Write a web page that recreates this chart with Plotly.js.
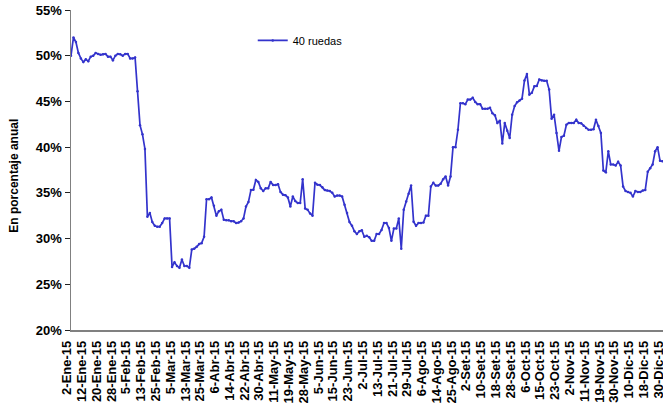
<!DOCTYPE html>
<html>
<head>
<meta charset="utf-8">
<script src="https://cdn.plot.ly/plotly-3.0.1.min.js"></script>
<style>html,body{margin:0;padding:0;background:#fff;}#chart{width:663px;height:410px;}</style>
</head>
<body>
<div id="chart"></div>
<script>
// Series: "40 ruedas" (percent annual), one value per trading day of 2015
var seriesName = "40 ruedas";
var values = [
50.0,52.0,51.5,50.3,49.7,49.3,49.6,49.4,49.9,50.0,
50.3,50.2,50.1,50.15,50.2,49.9,49.9,49.5,50.0,50.2,
50.15,50.0,50.2,50.2,49.7,49.7,49.8,46.1,42.4,41.4,
39.8,32.4,32.8,31.8,31.4,31.3,31.3,31.7,32.2,32.2,
32.2,26.9,27.4,27.0,26.8,27.7,27.0,27.0,26.8,28.8,
28.9,29.1,29.4,29.5,30.2,34.3,34.3,34.5,33.6,32.5,
33.0,33.15,32.05,32.0,32.0,31.9,31.9,31.7,31.75,31.9,
32.2,33.5,34.0,35.3,35.35,36.4,36.2,35.5,35.2,35.5,
35.5,36.2,35.85,35.85,35.95,35.1,34.8,34.75,34.5,33.5,
34.6,34.1,33.9,33.9,36.5,33.3,33.15,32.75,32.5,36.1,
35.9,35.85,35.6,35.3,35.25,35.2,35.0,34.6,34.7,34.7,
34.6,33.7,32.8,31.8,31.4,30.8,30.5,30.8,30.9,30.2,
30.3,30.15,29.75,29.75,30.5,30.5,30.95,31.7,31.7,31.15,
29.75,31.1,31.1,32.2,28.9,33.15,34.05,34.9,35.8,31.85,
31.4,31.7,31.7,31.75,32.5,32.5,35.7,36.1,35.8,35.8,
36.0,36.5,36.8,35.8,36.8,40.0,40.0,41.9,44.8,44.8,
44.7,45.2,45.2,45.4,44.95,44.7,44.7,44.2,44.2,44.2,
44.3,43.7,43.5,42.65,42.9,40.4,42.65,41.8,41.0,43.55,
44.5,44.9,45.1,45.3,47.3,48.0,45.75,45.95,46.65,46.7,
47.4,47.3,47.25,47.25,46.3,43.1,43.55,41.55,39.6,41.1,
41.25,42.45,42.65,42.65,42.65,43.0,42.65,42.6,42.35,42.1,
41.9,41.9,41.95,43.0,42.3,41.55,37.45,37.25,39.55,38.1,
38.1,38.0,38.4,38.0,35.7,35.2,35.1,35.0,34.6,35.2,
35.1,35.1,35.25,35.3,37.3,37.7,38.1,39.55,40.0,38.5,
38.45
];
// Category tick labels (every 6th trading day)
var tickLabels = ["2-Ene-15","12-Ene-15","20-Ene-15","28-Ene-15","5-Feb-15","13-Feb-15","25-Feb-15",
"5-Mar-15","13-Mar-15","25-Mar-15","6-Abr-15","14-Abr-15","22-Abr-15","30-Abr-15","11-May-15",
"19-May-15","28-May-15","5-Jun-15","15-Jun-15","23-Jun-15","2-Jul-15","13-Jul-15","21-Jul-15",
"29-Jul-15","6-Ago-15","14-Ago-15","25-Ago-15","2-Set-15","10-Set-15","18-Set-15","28-Set-15",
"6-Oct-15","15-Oct-15","23-Oct-15","2-Nov-15","11-Nov-15","19-Nov-15","30-Nov-15","10-Dic-15",
"18-Dic-15","30-Dic-15"];
var labelStep = 6;
var yTickVals = [20,25,30,35,40,45,50,55];
var yTitle = "En porcentaje anual";

var xs = values.map(function(v,i){return i;});
var tickPos = tickLabels.map(function(t,i){return i*labelStep;});
var yTickText = yTickVals.map(function(v){return v+"%";});

var trace = {
  x: xs, y: values, type: 'scatter', mode: 'lines+markers', name: seriesName,
  line: {color: '#3333cc', width: 1.7},
  marker: {color: '#3333cc', size: 2.5}
};
var axisColor = '#808080';
var FONT = 'Liberation Sans, Arial, sans-serif';
var layout = {
  width: 663, height: 410,
  margin: {l: 71, r: 0, t: 10, b: 80, pad: 0},
  paper_bgcolor: '#ffffff', plot_bgcolor: '#ffffff',
  font: {family: FONT, color: '#000'},
  showlegend: true,
  legend: {x: 0.307, y: 0.905, xanchor: 'left', yanchor: 'middle', bgcolor: 'rgba(0,0,0,0)',
           font: {size: 11, family: FONT}, itemwidth: 30},
  xaxis: {
    range: [0, values.length - 0.8], tickmode: 'array', tickvals: tickPos, ticktext: tickLabels,
    tickangle: -90, tickfont: {size: 13, family: FONT, weight: 'bold'},
    ticklabelshift: -4, ticklabelstandoff: 4, ticklabeloverflow: 'allow',
    showline: true, linecolor: axisColor, linewidth: 1.5, ticks: '', showgrid: false, zeroline: false,
    automargin: false
  },
  yaxis: {
    range: [20, 55], tickmode: 'array', tickvals: yTickVals, ticktext: yTickText,
    tickfont: {size: 13, family: FONT, weight: 'bold'},
    showline: true, linecolor: axisColor, linewidth: 1.5, ticks: 'outside', ticklen: 5,
    tickcolor: '#222', tickwidth: 1, showgrid: false, zeroline: false, automargin: false
  },
  yaxis2: {
    overlaying: 'y', side: 'left', range: [20, 55], tickmode: 'array', tickvals: yTickVals,
    showticklabels: false, ticks: 'inside', ticklen: 5, tickcolor: '#222', tickwidth: 1,
    showline: false, showgrid: false, zeroline: false
  },
  annotations: [{
    text: yTitle, xref: 'paper', yref: 'paper', x: -0.0963, y: 0.482,
    xanchor: 'center', yanchor: 'middle', textangle: -90, showarrow: false,
    font: {size: 12, family: FONT, weight: 'bold', color: '#000'}
  }]
};
Plotly.newPlot('chart', [trace], layout, {displayModeBar: false, staticPlot: true});
</script>
</body>
</html>
